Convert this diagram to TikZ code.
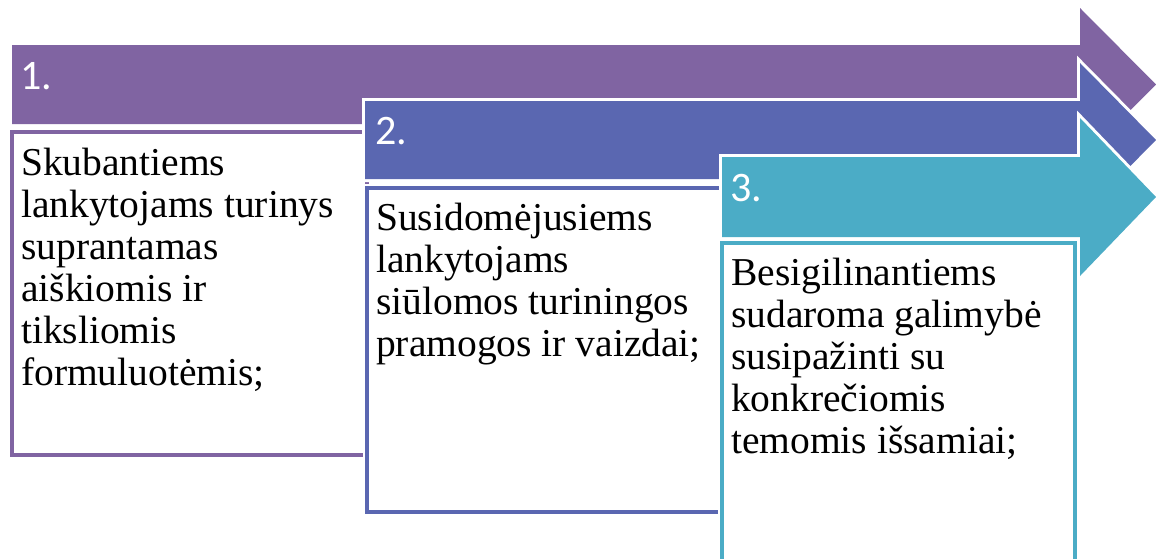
\documentclass[tikz,border=0pt]{standalone}
\usepackage{fontspec}
\setmainfont{Liberation Serif}
\newfontfamily\zahlfont{Carlito}
\definecolor{lila}{HTML}{8064A2}
\definecolor{blau}{HTML}{5A67B1}
\definecolor{tuerkis}{HTML}{4BACC6}

\begin{document}
\begin{tikzpicture} [ x=1pt, y=-1pt
								, pfeil/.style={preaction={draw=white, line width=6pt, line join=miter}}
								, kasten/.style={rectangle, fill=white, line width=4pt, anchor=north west, inner sep=0pt, preaction={draw=white, line width=8pt}}
								, nummer/.style={anchor=base west, inner sep=0pt, text=white, font=\zahlfont\fontsize{42}{50}\selectfont}
								, beschreibung/.style={anchor=north west, inner sep=0pt, align=left, font=\fontsize{39.5}{42}\selectfont}
								]
	\useasboundingbox (0,0) rectangle (1156,558);
	\clip (0,0) rectangle (1156,558);

	% Schritt 1
	\fill [pfeil, lila] (12,45) -- (1080,45) -- (1080,8) -- (1156,84.5) -- (1080,161) -- (1080,124) -- (12,124) -- cycle;
	\node (kasten1) 	[kasten, draw=lila, minimum width=355pt, minimum height=323pt] at (10,130) {};
	\node (text1) 		[beschreibung] at (21,145.6) {\strut Skubantiems\\lankytojams turinys\\suprantamas\\aiškiomis ir\\tiksliomis\\formuluotėmis;};

	% Schritt 2
	\fill [pfeil, blau] (365,101) -- (1080,101) -- (1080,63) -- (1156,140) -- (1080,217) -- (1080,179) -- (365,179) -- cycle;
	\node (kasten2) 	[kasten, draw=blau, minimum width=355pt, minimum height=324pt] at (365,186) {};
	\node (text2) 		[beschreibung] at (376,200.6) {\strut Susidomėjusiems\\lankytojams\\siūlomos turiningos\\pramogos ir vaizdai;};

	% Schritt 3
	\fill [pfeil, tuerkis] (722,157) -- (1080,157) -- (1080,118) -- (1156,197) -- (1080,276) -- (1080,237) -- (722,237) -- cycle;
	\node (kasten3) 	[kasten, draw=tuerkis, minimum width=353pt, minimum height=380pt] at (720,241) {};
	\node (text3) 		[beschreibung] at (731,255.6) {\strut Besigilinantiems\\sudaroma galimybė\\susipažinti su\\konkrečiomis\\temomis išsamiai;};

	\node (nr1) [nummer] at (20,89) {1.};
	\node (nr2) [nummer] at (375,144) {2.};
	\node (nr3) [nummer] at (730,201) {3.};

\end{tikzpicture}
\end{document}
